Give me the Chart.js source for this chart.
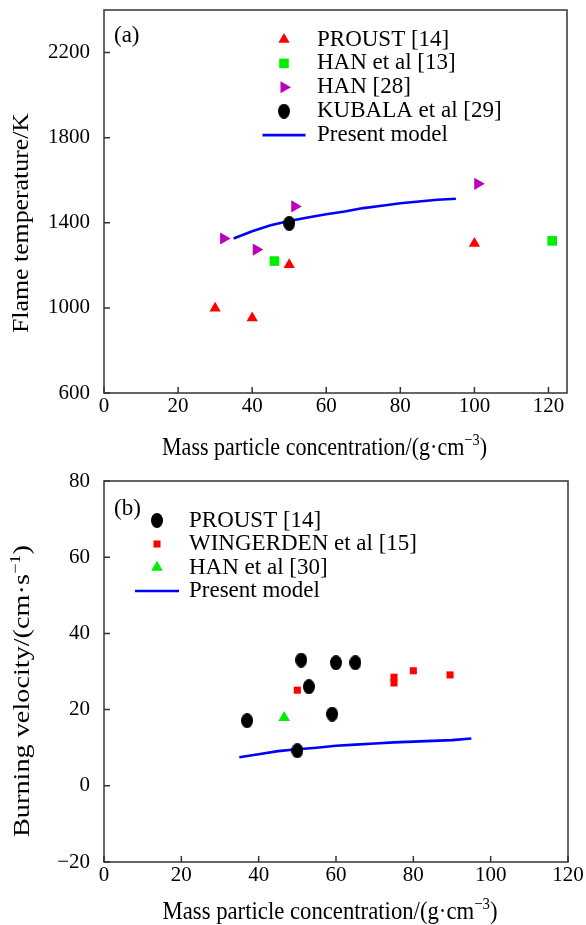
<!DOCTYPE html>
<html lang="en">
<head>
<meta charset="UTF-8">
<title>Flame temperature and burning velocity</title>
<script src="https://cdn.jsdelivr.net/npm/chart.js@4.4.1/dist/chart.umd.min.js"></script>
<style>
  body { margin: 0; background: #fff; }
  .box { position: absolute; left: 0; width: 586px; }
  #boxA { top: 0; height: 460px; }
  #boxB { top: 460px; height: 465px; }
</style>
</head>
<body>
<div class="box" id="boxA"><canvas id="chartA" width="586" height="460"></canvas></div>
<div class="box" id="boxB"><canvas id="chartB" width="586" height="465"></canvas></div>
<script>
// (a) flame temperature
const xTicksA = [0, 20, 40, 60, 80, 100, 120];
const yTicksA = [600, 1000, 1400, 1800, 2200];
const proustAX = [30, 40, 50, 100];
const proustAY = [998, 953, 1203, 1303];
const hanEtAlAX = [46, 121];
const hanEtAlAY = [1220, 1315];
const han28X = [32.3, 41.1, 51.5, 100.9];
const han28Y = [1326, 1274, 1477, 1583];
const kubalaX = [50];
const kubalaY = [1397];
const modelAX = [35, 40, 45, 50, 55, 60, 65, 70, 75, 80, 85, 90, 95];
const modelAY = [1326, 1360, 1388, 1408, 1425, 1440, 1453, 1469, 1480, 1492, 1500, 1508, 1513];

// (b) burning velocity
const xTicksB = [0, 20, 40, 60, 80, 100, 120];
const yTicksB = [-20, 0, 20, 40, 60, 80];
const proustBX = [37, 51, 53, 60, 65, 59, 50];
const proustBY = [17.1, 33.0, 26.0, 32.3, 32.3, 18.8, 9.2];
const wingX = [50, 75, 75, 80, 89.5];
const wingY = [25.1, 28.5, 27.0, 30.2, 29.1];
const hanBX = [46.6];
const hanBY = [17.9];
const modelBX = [35, 40, 45, 50, 55, 60, 65, 70, 75, 80, 85, 90, 95];
const modelBY = [7.5, 8.3, 9.1, 9.6, 10.0, 10.5, 10.8, 11.1, 11.4, 11.6, 11.8, 12.0, 12.4];

const serif = "'Liberation Serif', 'Times New Roman', serif";

function pts(xs, ys) {
  return xs.map((x, i) => ({ x: x, y: ys[i] }));
}

function ellipseMarker(w, h) {
  const c = document.createElement('canvas');
  c.width = w;
  c.height = h;
  const g = c.getContext('2d');
  g.fillStyle = '#000';
  g.beginPath();
  g.ellipse(w / 2, h / 2, w / 2, h / 2, 0, 0, Math.PI * 2);
  g.fill();
  return c;
}

function fmt(v) {
  return v < 0 ? '\u2212' + Math.abs(v) : String(v);
}

// text stretched to the length it has in the reference
function drawTitle(ctx, parts, t) {
  ctx.save();
  ctx.translate(t.x, t.y);
  ctx.rotate(t.angle || 0);
  let w = 0;
  parts.forEach(p => {
    ctx.font = p.size + 'px ' + serif;
    p.w = ctx.measureText(p.text).width;
    w += p.w;
  });
  ctx.scale(t.len / w, t.tall || 1);
  ctx.fillStyle = '#000';
  ctx.textBaseline = 'alphabetic';
  ctx.textAlign = 'left';
  let x = -w / 2;
  parts.forEach(p => {
    ctx.font = p.size + 'px ' + serif;
    ctx.fillText(p.text, x, -(p.rise || 0));
    x += p.w;
  });
  ctx.restore();
}

const framePlugin = {
  id: 'frame',
  afterDraw(chart, args, o) {
    const ctx = chart.ctx;
    const a = chart.chartArea;
    const xs = chart.scales.x;
    const ys = chart.scales.y;
    ctx.save();
    ctx.strokeStyle = '#333';
    ctx.lineWidth = 1.5;
    ctx.strokeRect(a.left, a.top, a.right - a.left, a.bottom - a.top);
    ctx.beginPath();
    xs.ticks.forEach(t => {
      const p = xs.getPixelForValue(t.value);
      ctx.moveTo(p, a.bottom);
      ctx.lineTo(p, a.bottom - 6);
    });
    ys.ticks.forEach(t => {
      const p = ys.getPixelForValue(t.value);
      ctx.moveTo(a.left, p);
      ctx.lineTo(a.left + 6, p);
    });
    ctx.stroke();

    ctx.fillStyle = '#000';
    ctx.font = '23px ' + serif;
    ctx.textBaseline = 'middle';
    ctx.textAlign = 'left';
    ctx.fillText(o.tag, o.tagX, o.tagY);

    // legend
    chart.data.datasets.forEach((ds, i) => {
      const y = o.legendY + i * o.legendStep;
      if (ds.showLine) {
        ctx.strokeStyle = ds.borderColor;
        ctx.lineWidth = ds.borderWidth;
        ctx.beginPath();
        ctx.moveTo(o.legendX - o.lineHalf, y);
        ctx.lineTo(o.legendX + o.lineHalf, y);
        ctx.stroke();
      } else if (Chart.helpers && Chart.helpers.drawPoint) {
        ctx.fillStyle = ds.backgroundColor;
        Chart.helpers.drawPoint(ctx, {
          pointStyle: ds.pointStyle,
          rotation: ds.rotation || 0,
          radius: ds.pointRadius,
          borderWidth: 0
        }, o.legendX, y);
      }
      ctx.fillStyle = '#000';
      ctx.font = '23px ' + serif;
      ctx.textBaseline = 'middle';
      ctx.fillText(ds.label, o.legendTextX, y);
    });

    drawTitle(ctx, o.xTitle, o.xTitlePos);
    drawTitle(ctx, o.yTitle, o.yTitlePos);
    ctx.restore();
  }
};

function axes(xMin, xMax, xTicks, yMin, yMax, yTicks, xHeight) {
  const tickFont = { family: serif, size: 21 };
  return {
    x: {
      type: 'linear',
      min: xMin,
      max: xMax,
      afterBuildTicks: s => { s.ticks = xTicks.map(v => ({ value: v })); },
      afterFit: s => {
        s.height = xHeight;
        s.paddingLeft = 0;
        s.paddingRight = 0;
      },
      ticks: { font: tickFont, color: '#000', padding: 1, maxRotation: 0, autoSkip: false, callback: fmt },
      grid: { display: false, drawTicks: false },
      border: { display: false }
    },
    y: {
      type: 'linear',
      min: yMin,
      max: yMax,
      afterBuildTicks: s => { s.ticks = yTicks.map(v => ({ value: v })); },
      afterFit: s => {
        s.width = 104;
        s.paddingTop = 0;
        s.paddingBottom = 0;
      },
      ticks: { font: tickFont, color: '#000', padding: 14, autoSkip: false, callback: fmt },
      grid: { display: false, drawTicks: false },
      border: { display: false }
    }
  };
}

function scatter(label, data, style, color, radius, rotation) {
  return {
    type: 'scatter',
    label: label,
    data: data,
    pointStyle: style,
    rotation: rotation || 0,
    pointRadius: radius,
    pointBackgroundColor: color,
    backgroundColor: color,
    pointBorderWidth: 0,
    borderWidth: 0
  };
}

function model(xs, ys) {
  return {
    type: 'line',
    label: 'Present model',
    data: pts(xs, ys),
    showLine: true,
    borderColor: '#0000ff',
    borderWidth: 2.6,
    pointRadius: 0,
    tension: 0,
    fill: false
  };
}

new Chart(document.getElementById('chartA'), {
  type: 'scatter',
  data: {
    datasets: [
      scatter('PROUST [14]', pts(proustAX, proustAY), 'triangle', '#ff0000', 6.5),
      scatter('HAN et al [13]', pts(hanEtAlAX, hanEtAlAY), 'rect', '#00ee00', 6.8),
      scatter('HAN [28]', pts(han28X, han28Y), 'triangle', '#bb00bb', 7, 90),
      scatter('KUBALA et al [29]', pts(kubalaX, kubalaY), ellipseMarker(12, 15), '#000', 6),
      model(modelAX, modelAY)
    ]
  },
  options: {
    responsive: false,
    animation: false,
    events: [],
    layout: { padding: { top: 10, right: 19, left: 0, bottom: 0 } },
    scales: axes(0, 125, xTicksA, 600, 2400, yTicksA, 67),
    plugins: {
      legend: { display: false },
      tooltip: { enabled: false },
      frame: {
        tag: '(a)', tagX: 114, tagY: 36,
        legendX: 284, legendTextX: 317, legendY: 39.5, legendStep: 23.9, lineHalf: 21.5,
        xTitle: [
          { text: 'Mass particle concentration/(g\u00b7cm', size: 23 },
          { text: '\u22123', size: 15, rise: 9 },
          { text: ')', size: 23 }
        ],
        xTitlePos: { x: 324.5, y: 455, len: 325, tall: 1.1 },
        yTitle: [{ text: 'Flame temperature/K', size: 23 }],
        yTitlePos: { x: 28, y: 223, len: 220, angle: -Math.PI / 2 }
      }
    }
  },
  plugins: [framePlugin]
});

new Chart(document.getElementById('chartB'), {
  type: 'scatter',
  data: {
    datasets: [
      scatter('PROUST [14]', pts(proustBX, proustBY), ellipseMarker(12, 15), '#000', 6),
      scatter('WINGERDEN et al [15]', pts(wingX, wingY), 'rect', '#ff0000', 5),
      scatter('HAN et al [30]', pts(hanBX, hanBY), 'triangle', '#00ee00', 6.7),
      model(modelBX, modelBY)
    ]
  },
  options: {
    responsive: false,
    animation: false,
    events: [],
    layout: { padding: { top: 21, right: 18, left: 0, bottom: 0 } },
    scales: axes(0, 120, xTicksB, -20, 80, yTicksB, 63),
    plugins: {
      legend: { display: false },
      tooltip: { enabled: false },
      frame: {
        tag: '(b)', tagX: 114, tagY: 49,
        legendX: 157, legendTextX: 189, legendY: 60.5, legendStep: 23.5, lineHalf: 22,
        xTitle: [
          { text: 'Mass particle concentration/(g\u00b7cm', size: 23 },
          { text: '\u22123', size: 15, rise: 9 },
          { text: ')', size: 23 }
        ],
        xTitlePos: { x: 330, y: 459, len: 335, tall: 1.1 },
        yTitle: [
          { text: 'Burning velocity/(cm\u00b7s', size: 23 },
          { text: '\u22121', size: 15, rise: 9 },
          { text: ')', size: 23 }
        ],
        yTitlePos: { x: 29, y: 231, len: 292, angle: -Math.PI / 2 }
      }
    }
  },
  plugins: [framePlugin]
});
</script>
</body>
</html>
